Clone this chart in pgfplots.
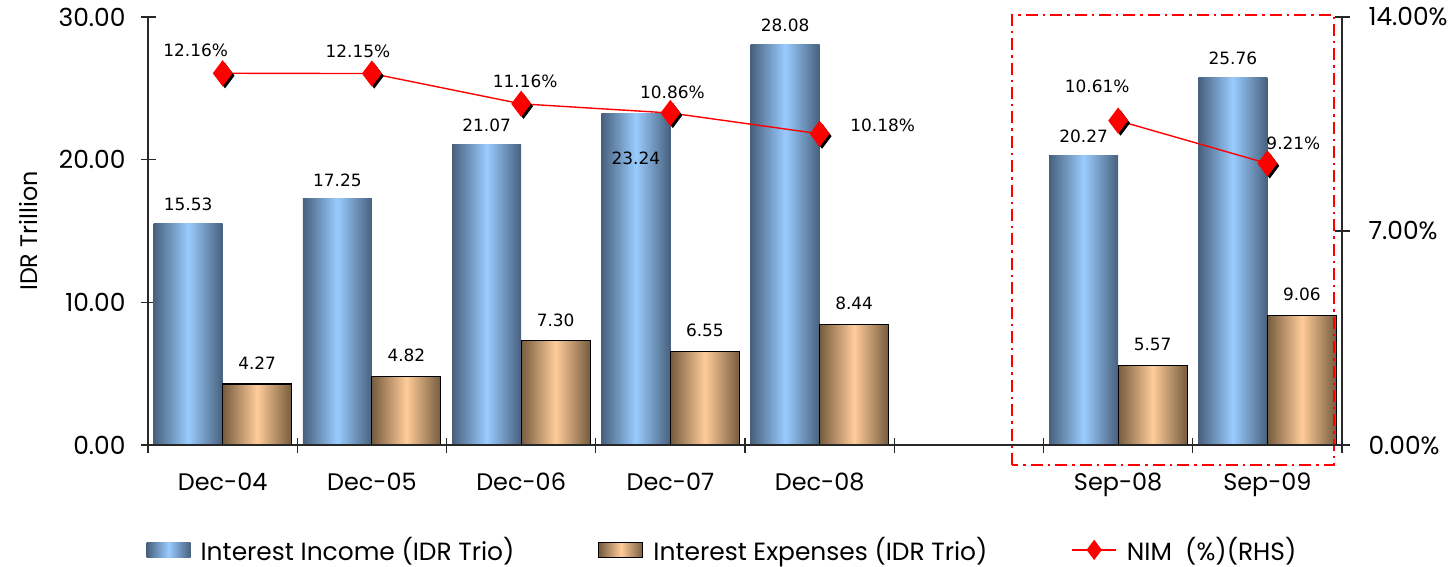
\documentclass[border=0pt]{standalone}
\usepackage{fontspec}
\setmainfont{Poppins}
\newfontfamily\lblfont{DejaVu Sans}
\usepackage{pgfplots}
\usepackage{pgfplotstable}
\pgfplotsset{compat=1.18}

\definecolor{incdark}{RGB}{72,96,125}
\definecolor{inclight}{RGB}{153,204,255}
\definecolor{expdark}{RGB}{118,92,62}
\definecolor{explight}{RGB}{255,204,153}
\definecolor{axisgray}{RGB}{40,40,40}

% x = slot centre, ys = label offset above bar top (bp)
\pgfplotstableread{
x   inc   ys    exp
0.5 15.53 9.5   4.27
1.5 17.25 9.5   4.82
2.5 21.07 9.5   7.30
3.5 23.24 -22.3 6.55
4.5 28.08 9.5   8.44
6.5 20.27 9.5   5.57
7.5 25.76 9.5   9.06
}\bars

% NIM with label offsets (bp)
\pgfplotstableread{
x   nim   dx    dy
0.5 12.16 -13.5 11.5
1.5 12.15 -7    11
2.5 11.16 2     11
3.5 10.86 1     10.5
4.5 10.18 31.5  4
5.5 nan   0     0
6.5 10.61 -10.5 17
7.5 9.21  13    10
}\nim

\tikzset{lbl/.style={font=\lblfont\fontsize{8.5}{10}\selectfont, text=black, anchor=center}}

\pgfplotsset{
  base/.style={
    width=597bp, height=214bp, scale only axis,
    xmin=0, xmax=8,
    axis line style={axisgray, line width=0.6bp},
    tick style={axisgray, line width=0.6bp},
    tick align=center, major tick length=7.5bp,
    tick label style={font=\fontsize{12.5}{14}\selectfont},
    /pgf/number format/assume math mode=true,
  },
  nimlegend/.style={legend image code/.code={\draw[mark repeat=2, mark phase=2, mark size=4.5bp, ##1] plot coordinates {(0bp,0bp) (11bp,0bp) (22bp,0bp)};}},
  inclegend/.style={legend image code/.code={\path[draw=none, left color=incdark, right color=incdark, middle color=inclight] (0bp,-3.75bp) rectangle (22bp,3.75bp);}},
  explegend/.style={legend image code/.code={\path[draw=black, line width=0.5bp, left color=expdark, right color=expdark, middle color=explight] (0bp,-3.75bp) rectangle (22bp,3.75bp);}},
}

\begin{document}
\begin{tikzpicture}
\begin{axis}[base, name=ax,
    axis x line*=bottom, axis y line*=left,
    ymin=0, ymax=30, ytick={0,10,20,30},
    yticklabel={\pgfmathprintnumber[fixed,fixed zerofill,precision=2]{\tick}},
    y tick label style={xshift=-4bp},
    xtick={0.5,1.5,2.5,3.5,4.5,6.5,7.5},
    xticklabels={Dec-04,Dec-05,Dec-06,Dec-07,Dec-08,Sep-08,Sep-09},
    x tick label style={font=\fontsize{12}{14}\selectfont, yshift=-6.5bp},
    xtick style={draw=none},
    ylabel={IDR Trillion},
    ylabel style={font=\fontsize{12}{14}\selectfont, at={(axis description cs:-0.1005,0.5)}, anchor=center},
    bar width=34.5bp,
    clip=false,
  ]
% one plot per bar so that each bar gets its own shading
\pgfplotsinvokeforeach{0,...,6}{
\addplot[ybar, bar shift=-17.25bp, draw=none,
    left color=incdark, right color=incdark, middle color=inclight,
    x filter/.expression={\coordindex==#1 ? x : nan}]
  table[x=x, y=inc] {\bars};
\addplot[ybar, bar shift=17.25bp, draw=black, line width=0.6bp,
    left color=expdark, right color=expdark, middle color=explight,
    x filter/.expression={\coordindex==#1 ? x : nan}]
  table[x=x, y=exp] {\bars};
}
% value labels
\addplot[draw=none, mark=none,
    nodes near coords={\pgfmathprintnumber[fixed,fixed zerofill,precision=2]{\pgfplotspointmeta}},
    visualization depends on={\thisrow{ys} \as \ys},
    every node near coord/.append style={lbl, xshift=-17.25bp, yshift=\ys bp}]
  table[x=x, y=inc] {\bars};
\addplot[draw=none, mark=none,
    nodes near coords={\pgfmathprintnumber[fixed,fixed zerofill,precision=2]{\pgfplotspointmeta}},
    every node near coord/.append style={lbl, xshift=17.25bp, yshift=10.5bp}]
  table[x=x, y=exp] {\bars};
\draw[red, line width=1.2bp, dash pattern=on 6bp off 2.5bp on 1.2bp off 2.5bp]
  (axis cs:5.79,-1.40) rectangle (axis cs:7.946,30.14);
\end{axis}

\begin{axis}[base,
    axis x line*=bottom, axis y line*=right,
    ymin=0, ymax=14, ytick={0,7,14},
    yticklabel={\pgfmathprintnumber[fixed,fixed zerofill,precision=2]{\tick}\%},
    y tick label style={xshift=6bp},
    xtick={0,1,...,8}, xticklabels={},
    unbounded coords=jump,
    clip=false,
    legend columns=3,
    legend style={at={(0.482,-0.245)}, anchor=center, draw=none, fill=none,
      font=\fontsize{12.5}{14}\selectfont,
      /tikz/every odd column/.append style={column sep=3bp},
      /tikz/every even column/.append style={column sep=40bp}},
  ]
\addlegendimage{inclegend}
\addlegendentry{Interest Income (IDR Trio)}
\addlegendimage{explegend}
\addlegendentry{Interest Expenses (IDR Trio)}
\addplot[forget plot, only marks, mark=diamond*, mark size=6bp,
    mark options={fill=black, draw=black, xshift=1.2bp, yshift=-1.2bp}]
  table[x=x, y=nim] {\nim};
\addplot[red, line width=0.7bp, mark=diamond*, mark size=6bp,
    mark options={fill=red, draw=red}, nimlegend,
    nodes near coords={\pgfmathprintnumber[fixed,fixed zerofill,precision=2]{\pgfplotspointmeta}\%},
    visualization depends on={\thisrow{dx} \as \dx},
    visualization depends on={\thisrow{dy} \as \dy},
    every node near coord/.append style={lbl, xshift=\dx bp, yshift=\dy bp}]
  table[x=x, y=nim] {\nim};
\addlegendentry{NIM\ \ (\%)(RHS)}
\end{axis}

\pgfresetboundingbox
\path ([shift={(-74bp,-60.5bp)}]ax.south west) rectangle ([shift={(56bp,8.5bp)}]ax.north east);
\end{tikzpicture}
\end{document}
